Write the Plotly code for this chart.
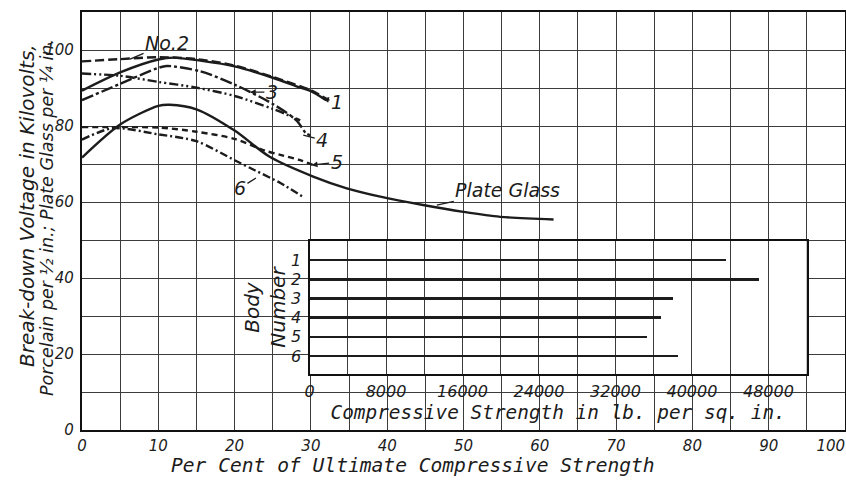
import plotly.graph_objects as go

# ---------------- data ----------------
# Main chart: per cent of ultimate compressive strength vs break-down kV
pct_body1 = [0, 5, 10, 12, 15.5, 20, 25, 28.6, 30, 32]
kv_body1 = [89.3, 94.1, 97.5, 98.0, 97.2, 95.7, 92.7, 90.1, 89.2, 86.8]

pct_body2 = [0, 5, 10, 15, 20, 25, 30, 32]
kv_body2 = [97.0, 97.6, 98.1, 97.6, 95.9, 92.9, 89.4, 87.2]

pct_body3 = [0, 5, 10, 15, 20, 25, 28.6]
kv_body3 = [93.8, 93.2, 91.6, 90.1, 87.9, 84.5, 81.5]

pct_body4 = [0, 5, 10, 11.1, 15.5, 20, 25, 28.1, 29.4, 29.9]
kv_body4 = [86.8, 91.1, 95.3, 95.8, 94.4, 90.9, 85.8, 81.5, 78.0, 77.6]

pct_body5 = [0, 5, 10, 15, 20, 24, 26, 28.6, 30.3]
kv_body5 = [79.7, 79.7, 79.6, 78.5, 76.6, 73.5, 72.4, 71.0, 69.7]

pct_body6 = [0, 4, 10, 15, 20, 22.7, 26, 29]
kv_body6 = [76.4, 79.4, 77.8, 76.0, 71.0, 68.3, 65.0, 61.3]

pct_glass = [0, 5, 10, 11.5, 15, 20, 24.6, 30.3, 34.7, 39.1, 44.7, 50.0, 54.8, 61.8]
kv_glass = [71.7, 80.4, 85.3, 85.6, 84.4, 78.8, 71.9, 66.7, 63.6, 61.4, 59.2, 57.4, 56.1, 55.4]

x_tick_vals = [0, 10, 20, 30, 40, 50, 60, 70, 80, 90, 100]
x_tick_text = ["0", "10", "20", "30", "40", "50", "60", "70", "80", "90", "100"]
y_tick_vals = [0, 20, 40, 60, 80, 100]
y_tick_text = ["0", "20", "40", "60", "80", "100"]

# Inset: compressive strength of each body
body_numbers = [1, 2, 3, 4, 5, 6]
body_labels = ["1", "2", "3", "4", "5", "6"]
strength_psi = [43500, 47000, 38000, 36700, 35200, 38500]
inset_tick_vals = [0, 8000, 16000, 24000, 32000, 40000, 48000]
inset_tick_text = ["0", "8000", "16000", "24000", "32000", "40000", "48000"]

# ---------------- styling ----------------
INK = "#1c1c1c"
GRID = "#3c3c3c"
FONT = "DejaVu Sans"
MONO = "DejaVu Sans Mono"
LW = 2.4
X_MAX, Y_MAX = 100, 110

fig = go.Figure()

curves = [
    (pct_body1, kv_body1, "solid"),
    (pct_body2, kv_body2, "9px,4px"),
    (pct_body3, kv_body3, "9px,3px,2px,3px,2px,3px"),
    (pct_body4, kv_body4, "12px,3px,3px,3px"),
    (pct_body5, kv_body5, "6px,4px"),
    (pct_body6, kv_body6, "8px,3px,2px,3px"),
    (pct_glass, kv_glass, "solid"),
]
for xs, ys, dash in curves:
    fig.add_trace(go.Scatter(
        x=xs, y=ys, mode="lines", xaxis="x", yaxis="y",
        line=dict(color=INK, width=LW, dash=dash, shape="spline", smoothing=0.8),
        showlegend=False, hoverinfo="skip"))

# inset bars live on the top-most subplot (x5/y5)
fig.add_trace(go.Bar(
    x=strength_psi, y=body_numbers, orientation="h", xaxis="x5", yaxis="y5",
    width=0.13, marker=dict(color=INK, line=dict(width=0)),
    showlegend=False, hoverinfo="skip"))

# pad the last x tick label so it sits inside the page like the original
x_tick_text_shown = list(x_tick_text)
x_tick_text_shown[-1] = x_tick_text[-1] + "\u00a0" * 6

tickfont = dict(family=FONT, size=15, color=INK, style="italic")
grid = dict(showgrid=True, gridcolor=GRID, gridwidth=1.3)

layout = dict(
    width=846, height=481,
    margin=dict(l=82, r=1, t=12, b=51, autoexpand=False),
    paper_bgcolor="white", plot_bgcolor="white",
    font=dict(family=FONT, color=INK, style="italic"),
    showlegend=False,
    bargap=0,
    xaxis=dict(
        domain=[0, 1], range=[0, X_MAX], anchor="y",
        tickmode="array", tickvals=x_tick_vals, ticktext=x_tick_text_shown,
        minor=dict(tickmode="linear", tick0=0, dtick=5, **grid),
        showline=True, linecolor="#111", linewidth=2.4, mirror=True,
        zeroline=False, ticks="", tickfont=tickfont, ticklabelstandoff=1,
        ticklabeloverflow="allow", automargin=False, **grid),
    yaxis=dict(
        domain=[0, 1], range=[0, Y_MAX], anchor="x",
        tickmode="array", tickvals=y_tick_vals, ticktext=y_tick_text,
        minor=dict(tickmode="linear", tick0=0, dtick=10, **grid),
        showline=True, linecolor="#111", linewidth=2.4, mirror=True,
        zeroline=False, ticks="", tickfont=tickfont, ticklabelstandoff=3,
        automargin=False, **grid),
    xaxis5=dict(
        domain=[0.2982, 0.9498], range=[0, 52000], anchor="y5",
        tickmode="array", tickvals=inset_tick_vals, ticktext=inset_tick_text,
        minor=dict(tickmode="linear", tick0=0, dtick=4000, **grid),
        showline=True, linecolor="#111", linewidth=2.2, mirror=True,
        zeroline=False, ticks="",
        tickfont=dict(family=FONT, size=16, color=INK, style="italic"),
        ticklabelstandoff=2,
        title=dict(text="Compressive Strength in lb. per sq. in.",
                   font=dict(family=MONO, size=19.4, color=INK, style="italic"),
                   standoff=1),
        automargin=False, **grid),
    yaxis5=dict(
        domain=[0.134, 0.452], range=[6.94, 0], anchor="x5",
        tickmode="array", tickvals=body_numbers, ticktext=body_labels,
        showgrid=False,
        showline=True, linecolor="#111", linewidth=2.2, mirror=True,
        zeroline=False, ticks="",
        tickfont=dict(family=FONT, size=16, color=INK, style="italic"),
        ticklabelstandoff=3,
        title=dict(text="Body<br>Number",
                   font=dict(family=FONT, size=20, color=INK, style="italic"),
                   standoff=0),
        automargin=False),
)

# blank (white) panels that hide the main grid where the inset and its
# lettering sit; they are empty subplots drawn between the main plot and the inset
blank_panels = [  # (x0, x1, y0, y1) in main-chart data units
    (20.3, 97.4, 13.2, 48.0),
    (23.9, 97.4, 48.0, 53.4),
    (26.0, 95.8, 1.6, 13.2),
]
hidden = dict(showgrid=False, zeroline=False, showline=False, showticklabels=False,
              ticks="", fixedrange=True, range=[0, 1])
for i, (x0, x1, y0, y1) in enumerate(blank_panels, start=2):
    layout[f"xaxis{i}"] = dict(domain=[x0 / X_MAX, x1 / X_MAX], anchor=f"y{i}", **hidden)
    layout[f"yaxis{i}"] = dict(domain=[y0 / Y_MAX, y1 / Y_MAX], anchor=f"x{i}", **hidden)

fig.update_layout(**layout)

# axis titles for the main chart
fig.add_annotation(text="Per Cent of Ultimate Compressive Strength",
                   xref="paper", yref="paper", x=(413 - 82) / 763, y=(430 - 465) / 418,
                   xanchor="center", yanchor="middle", showarrow=False,
                   font=dict(family=MONO, size=19.6, color=INK, style="italic"))
fig.add_annotation(text="Break-down Voltage in Kilovolts,",
                   xref="paper", yref="paper", x=(27 - 82) / 763, y=(430 - 206) / 418,
                   xanchor="center", yanchor="middle", textangle=-90,
                   showarrow=False,
                   font=dict(family=FONT, size=20, color=INK, style="italic"))
fig.add_annotation(text="Porcelain per \u00bd in.; Plate Glass per \u00bc in.",
                   xref="paper", yref="paper", x=(47 - 82) / 763, y=(430 - 218) / 418,
                   xanchor="center", yanchor="middle", textangle=-90,
                   showarrow=False,
                   font=dict(family=FONT, size=17.5, color=INK, style="italic"))

# curve labels with pointers
lbl_font = dict(family=FONT, size=19, color=INK, style="italic")
curve_labels = [
    ("No.2", 6.3, 97.6, 37, -16, 0),
    ("1", 31.6, 87.2, 14, 3, 2),
    ("3", 22.0, 88.9, 22, 0, 2),
    ("4", 29.0, 77.6, 19, 5, 0),
    ("5", 30.1, 69.7, 25, -3, 2),
    ("6", 22.8, 66.3, -16, 10, 0),
    ("Plate Glass", 46.5, 59.2, 71, -15, 0),
]
for text, x, y, ax, ay, head in curve_labels:
    fig.add_annotation(text=text, xref="x", yref="y", x=x, y=y, ax=ax, ay=ay,
                       axref="pixel", ayref="pixel", showarrow=True,
                       arrowhead=head, arrowsize=0.9, arrowwidth=1.3,
                       arrowcolor=INK, standoff=0, font=lbl_font)

fig.write_html("out.html")
